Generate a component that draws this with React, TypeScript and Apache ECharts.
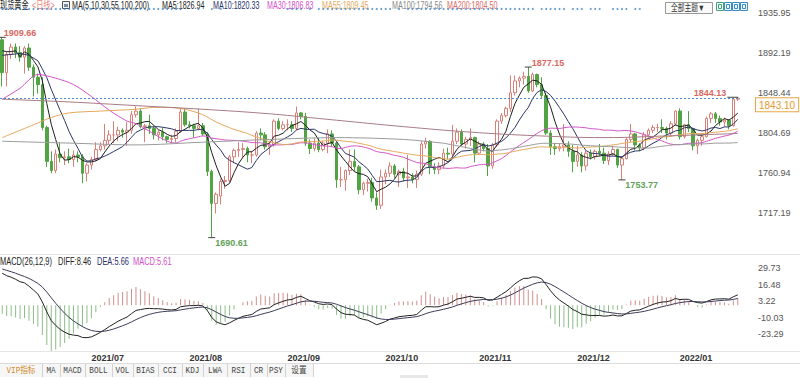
import React, { useEffect, useRef } from "react";
import * as echarts from "echarts";

// ---------- DATA ----------
const firstDay = "2021-06-03";
const lastDay = "2022-01-20";
function weekdays(from: string, to: string): string[] {
  const out: string[] = [];
  const d = new Date(from + "T00:00:00Z");
  const end = new Date(to + "T00:00:00Z");
  while (d <= end) {
    const wd = d.getUTCDay();
    if (wd !== 0 && wd !== 6) out.push(d.toISOString().slice(0, 10));
    d.setUTCDate(d.getUTCDate() + 1);
  }
  return out;
}
const dates = weekdays(firstDay, lastDay);

const opens = [
  1907, 1871, 1891, 1899, 1893, 1888, 1898, 1877, 1866, 1858,
  1811, 1774, 1764, 1782, 1778, 1779, 1776, 1781, 1779, 1761,
  1770, 1776, 1787, 1791, 1797, 1803, 1803, 1808, 1806, 1808,
  1825, 1829, 1812, 1813, 1810, 1803, 1806, 1801, 1798, 1799,
  1807, 1828, 1814, 1813, 1810, 1813, 1804, 1763, 1728, 1736,
  1752, 1753, 1779, 1786, 1787, 1788, 1781, 1781, 1805, 1803,
  1790, 1792, 1818, 1810, 1814, 1814, 1810, 1827, 1823, 1794,
  1788, 1794, 1787, 1794, 1804, 1794, 1754, 1754, 1764, 1774,
  1768, 1743, 1750, 1751, 1734, 1726, 1757, 1761, 1769, 1760,
  1763, 1756, 1757, 1754, 1760, 1793, 1796, 1768, 1765, 1769,
  1783, 1782, 1796, 1806, 1793, 1798, 1800, 1783, 1793, 1788,
  1769, 1792, 1818, 1824, 1832, 1849, 1862, 1865, 1867, 1851,
  1869, 1858, 1846, 1805, 1790, 1788, 1790, 1792, 1785, 1774,
  1781, 1769, 1783, 1779, 1785, 1783, 1775, 1782, 1787, 1770,
  1777, 1798, 1804, 1792, 1789, 1803, 1808, 1811, 1811, 1810,
  1805, 1815, 1829, 1801, 1814, 1810, 1791, 1797, 1801, 1821,
  1826, 1821, 1817, 1819, 1813, 1842,
];
const closes = [
  1871, 1891, 1899, 1893, 1888, 1898, 1877, 1866, 1858, 1811,
  1774, 1764, 1782, 1778, 1779, 1776, 1781, 1779, 1761, 1770,
  1776, 1787, 1791, 1797, 1803, 1803, 1808, 1806, 1808, 1825,
  1829, 1812, 1813, 1810, 1803, 1806, 1801, 1798, 1799, 1807,
  1828, 1814, 1813, 1810, 1813, 1804, 1763, 1728, 1738, 1752,
  1753, 1779, 1786, 1787, 1788, 1781, 1781, 1805, 1803, 1790,
  1792, 1818, 1810, 1814, 1814, 1810, 1827, 1823, 1794, 1788,
  1794, 1787, 1794, 1804, 1794, 1754, 1754, 1764, 1774, 1768,
  1743, 1750, 1751, 1734, 1726, 1757, 1761, 1769, 1760, 1763,
  1756, 1757, 1754, 1760, 1793, 1796, 1768, 1765, 1769, 1783,
  1782, 1796, 1806, 1793, 1798, 1800, 1783, 1793, 1788, 1769,
  1792, 1818, 1824, 1832, 1849, 1862, 1865, 1867, 1851, 1869,
  1858, 1846, 1805, 1790, 1788, 1790, 1792, 1785, 1774, 1781,
  1769, 1783, 1779, 1785, 1783, 1775, 1782, 1787, 1770, 1777,
  1798, 1804, 1792, 1789, 1803, 1808, 1811, 1811, 1810, 1805,
  1815, 1829, 1801, 1814, 1810, 1791, 1797, 1801, 1821, 1826,
  1821, 1817, 1819, 1813, 1842, 1843.1,
];
const lows = [
  1856, 1856, 1886, 1887, 1883, 1870, 1873, 1845, 1848, 1808,
  1768, 1761, 1761, 1773, 1770, 1772, 1768, 1773, 1750, 1752,
  1765, 1774, 1785, 1787, 1793, 1794, 1796, 1800, 1791, 1804,
  1822, 1810, 1795, 1804, 1798, 1797, 1797, 1794, 1794, 1795,
  1805, 1812, 1810, 1800, 1808, 1802, 1758, 1690.61, 1717, 1727,
  1744, 1751, 1772, 1779, 1778, 1773, 1772, 1779, 1797, 1787,
  1781, 1790, 1808, 1808, 1808, 1806, 1808, 1820, 1791, 1782,
  1785, 1784, 1785, 1783, 1790, 1745, 1746, 1742, 1759, 1763,
  1738, 1737, 1741, 1730, 1721, 1722, 1749, 1757, 1756, 1746,
  1752, 1745, 1750, 1745, 1758, 1788, 1760, 1760, 1760, 1766,
  1776, 1777, 1793, 1791, 1788, 1791, 1773, 1781, 1785, 1758,
  1766, 1790, 1815, 1822, 1828, 1846, 1855, 1858, 1849, 1850,
  1855, 1843, 1803, 1781, 1781, 1785, 1785, 1779, 1762, 1768,
  1762, 1764, 1776, 1776, 1780, 1771, 1770, 1780, 1767, 1753.77,
  1776, 1795, 1786, 1785, 1786, 1800, 1805, 1806, 1805, 1798,
  1801, 1813, 1798, 1799, 1806, 1786, 1782, 1791, 1800, 1816,
  1816, 1813, 1812, 1809, 1812, 1840,
];
const highs = [
  1909.66, 1894, 1903, 1903, 1900, 1900, 1903, 1880, 1870, 1866,
  1813, 1785, 1787, 1795, 1785, 1788, 1786, 1785, 1782, 1772,
  1779, 1795, 1795, 1815, 1808, 1818, 1812, 1810, 1817, 1829,
  1834, 1832, 1815, 1825, 1813, 1808, 1811, 1802, 1803, 1810,
  1832, 1832, 1818, 1815, 1832, 1816, 1806, 1765, 1740, 1755,
  1758, 1781, 1788, 1795, 1794, 1790, 1785, 1807, 1810, 1806,
  1796, 1820, 1821, 1818, 1820, 1818, 1834, 1828, 1827, 1798,
  1799, 1800, 1796, 1809, 1808, 1796, 1768, 1765, 1787, 1787,
  1770, 1752, 1755, 1756, 1740, 1765, 1765, 1773, 1771, 1765,
  1767, 1781, 1761, 1764, 1796, 1800, 1797, 1772, 1773, 1788,
  1789, 1814, 1810, 1809, 1801, 1810, 1801, 1796, 1795, 1793,
  1794, 1820, 1827, 1834, 1868, 1868, 1867, 1872, 1877.15, 1871,
  1870, 1866, 1849, 1808, 1794, 1794, 1815, 1796, 1792, 1791,
  1784, 1786, 1787, 1787, 1793, 1789, 1785, 1791, 1788, 1779,
  1800, 1815, 1805, 1794, 1806, 1810, 1814, 1815, 1820, 1812,
  1818, 1830, 1832, 1815, 1829, 1811, 1799, 1804, 1823, 1828,
  1828, 1824, 1822, 1820, 1843, 1844.13,
];

const ma5Early: [number, number][] = [[0, 1895], [1, 1894], [2, 1894], [3, 1895]];
const ma10Early: [number, number][] = [[0, 1890], [2, 1891], [4, 1892], [6, 1890], [8, 1884]];
const ma30Early: [number, number][] = [[0, 1842], [4, 1854], [8, 1869], [12, 1865], [16, 1858], [20, 1845], [24, 1830], [28, 1818]];
const ma55Early: [number, number][] = [[0, 1800], [7, 1814], [11, 1822], [15, 1827], [22, 1829], [30, 1831], [34, 1833], [37, 1833], [41, 1831], [45, 1825], [48, 1817], [52, 1809]];
const ma100Early: [number, number][] = [[0, 1796], [15, 1794], [30, 1792], [45, 1795], [60, 1798], [75, 1800], [90, 1798]];
const ma200Read: [number, number][] = [[0, 1842], [15, 1839], [30, 1835], [45, 1831], [60, 1826], [75, 1819], [90, 1812], [105, 1806], [120, 1802], [135, 1800], [150, 1802], [165, 1804.5]];

// MACD state before the first candle
const macdSeed = { ema12: 1896, ema26: 1866, dea: 30 };

const mainTicks = [1935.95, 1892.19, 1848.44, 1804.69, 1760.94, 1717.19];
const macdTicks = [29.73, 16.48, 3.22, -10.03, -23.29];

const highMarks = [0, 118, 165];
const lowMarks = [47, 139];

const flagIdx = [
  0, 1, 2, 3, 4, 5, 6, 7, 8, 9, 10, 11, 12, 13, 14, 15, 16, 17, 18, 19, 20,
  21, 22, 23, 24, 25, 26, 27, 28, 29, 30, 31, 32, 33, 34, 35, 36, 37, 38, 39, 40,
  44, 47, 49, 64, 65, 66, 67, 69,
  71, 72, 73, 74, 75, 76, 77, 78, 79, 80, 81, 82, 83, 84, 85, 86, 87, 89,
  91, 92, 93, 94, 95, 96, 97, 98, 99, 100, 101, 102, 103, 104, 105, 106, 107, 108, 109,
  110, 111, 112, 113, 114, 115, 116, 117, 118, 119,
  121, 122, 123, 124, 125, 126, 128, 129, 130, 132, 133, 134, 137, 138, 139, 140, 142, 143,
];

const headerItems = [
  { t: "现货黄金", x: 0, c: "#222" },
  { t: "<日线>", x: 32, c: "#e8837a" },
  { t: "MA(5,10,30,55,100,200)", x: 72, c: "#222" },
  { t: "MA5:1826.94", x: 162, c: "#222" },
  { t: "MA10:1820.33", x: 213, c: "#27306b" },
  { t: "MA30:1806.83", x: 267, c: "#d44fc9" },
  { t: "MA55:1809.45", x: 322, c: "#e3a95e" },
  { t: "MA100:1794.56", x: 392, c: "#8a8a8a" },
  { t: "MA200:1804.50", x: 447, c: "#e06a66" },
];
const macdHeader = [
  { t: "MACD(26,12,9)", x: 0, c: "#222" },
  { t: "DIFF:8.46", x: 58, c: "#222" },
  { t: "DEA:5.66", x: 97, c: "#27306b" },
  { t: "MACD:5.61", x: 133, c: "#d44fc9" },
];
const toolbarLabels = ["VIP指标", "MA", "MACD", "BOLL", "VOL", "BIAS", "CCI", "KDJ", "LWA", "RSI", "CR", "PSY", "设置"];
const toolbarEdges = [0, 42, 60, 85, 112, 133, 158, 182, 203, 227, 250, 267, 285, 313];

// ---------- HELPERS ----------
function movingAverage(n: number, early: [number, number][]) {
  const out: (number | null)[] = closes.map((_, i) => {
    if (i < n - 1) return null;
    let s = 0;
    for (let k = i - n + 1; k <= i; k++) s += closes[k];
    return +(s / n).toFixed(2);
  });
  early.forEach(([i, v]) => {
    out[i] = v;
  });
  return out;
}
function macd() {
  let e12 = macdSeed.ema12, e26 = macdSeed.ema26, dea = macdSeed.dea;
  const dif: number[] = [], de: number[] = [], hist: number[] = [];
  closes.forEach((c) => {
    e12 = e12 + ((c - e12) * 2) / 13;
    e26 = e26 + ((c - e26) * 2) / 27;
    const d = e12 - e26;
    dea = dea + ((d - dea) * 2) / 10;
    dif.push(+d.toFixed(3));
    de.push(+dea.toFixed(3));
    hist.push(+(2 * (d - dea)).toFixed(3));
  });
  return { dif, de, hist };
}

const FONT = '"Liberation Sans", Arial, "Noto Sans CJK SC", sans-serif';

export default function App() {
  const ref = useRef<HTMLDivElement>(null);
  useEffect(() => {
    if (!ref.current) return;
    const chart = echarts.init(ref.current, undefined, { renderer: "svg" });
    const m = macd();
    const lastIdx = closes.length - 1;
    const maLine = (name: string, data: (number | null)[], color: string, smooth: number | boolean) => ({
      name,
      type: "line",
      xAxisIndex: 0,
      yAxisIndex: 0,
      data,
      showSymbol: false,
      connectNulls: true,
      smooth,
      lineStyle: { width: 1, color },
      itemStyle: { color },
      silent: true,
      z: 3,
    });

    const markData: any[] = [];
    highMarks.forEach((i, k) => {
      const isLast = i === lastIdx;
      markData.push({
        coord: [i, highs[i]],
        symbol: "rect",
        symbolSize: isLast ? [11, 1] : [7, 1],
        symbolOffset: isLast ? [-5, 0] : [0, 0],
        itemStyle: { color: "#444" },
        label: {
          show: true,
          formatter: highs[i].toFixed(2),
          color: "#d9695f",
          fontSize: 9,
          fontWeight: "bold",
          fontFamily: FONT,
          align: isLast ? "right" : "left",
          verticalAlign: "middle",
          position: isLast ? [-1, -4] : k === 0 ? [5, -4] : [7, -4],
        },
      });
    });
    lowMarks.forEach((i) => {
      markData.push({
        coord: [i, lows[i]],
        symbol: "rect",
        symbolSize: [7, 1],
        itemStyle: { color: "#444" },
        label: {
          show: true,
          formatter: lows[i].toFixed(2),
          color: "#5fa35a",
          fontSize: 9,
          fontWeight: "bold",
          fontFamily: FONT,
          align: "left",
          verticalAlign: "middle",
          position: [7, 6],
        },
      });
    });

    const graphics: any[] = [];
    headerItems.forEach((h) => {
      graphics.push({
        type: "text",
        x: h.x,
        y: 5,
        scaleX: 0.65,
        silent: true,
        style: { text: h.t, fill: h.c, fontSize: 11, fontFamily: FONT, verticalAlign: "middle" },
      });
    });
    graphics.push({ type: "rect", shape: { x: 62.5, y: 1.5, width: 7, height: 7 }, style: { fill: "#eef2f6", stroke: "#555", lineWidth: 1 } });
    graphics.push({ type: "rect", shape: { x: 64, y: 4, width: 4, height: 3 }, style: { fill: "#7a8ea0" } });
    macdHeader.forEach((h) => {
      graphics.push({
        type: "text",
        x: h.x,
        y: 261,
        scaleX: 0.68,
        silent: true,
        style: { text: h.t, fill: h.c, fontSize: 11, fontFamily: FONT, verticalAlign: "middle" },
      });
    });
    // theme button & icons
    graphics.push({ type: "rect", shape: { x: 665.5, y: 2.5, width: 47, height: 11 }, style: { fill: "#fafafa", stroke: "#9a9a9a", lineWidth: 1 } });
    graphics.push({ type: "text", x: 671, y: 8, scaleX: 0.75, style: { text: "全部主题▼", fill: "#333", fontSize: 9, fontFamily: FONT, verticalAlign: "middle" } });
    [716, 724, 732, 740].forEach((x, k) => {
      graphics.push({ type: "rect", shape: { x: x + 0.5, y: 2.5, width: 7, height: 8 }, style: { fill: "#f2f8fb", stroke: k === 0 ? "#46a07a" : "#3a8cc4", lineWidth: 1 } });
      graphics.push({ type: "rect", shape: { x: x + 2.5, y: 4.5, width: 3, height: 4 }, style: { fill: "none", stroke: k === 0 ? "#46a07a" : "#3a8cc4", lineWidth: 1 } });
    });
    // panel separators
    graphics.push({ type: "line", shape: { x1: 0, y1: 254.5, x2: 800, y2: 254.5 }, style: { stroke: "#e6e6e6", lineWidth: 1 } });
    graphics.push({ type: "line", shape: { x1: 0, y1: 351.5, x2: 800, y2: 351.5 }, style: { stroke: "#e6e6e6", lineWidth: 1 } });
    graphics.push({ type: "line", shape: { x1: 0, y1: 363.5, x2: 800, y2: 363.5 }, style: { stroke: "#dcdcdc", lineWidth: 1 } });
    // toolbar
    graphics.push({ type: "rect", shape: { x: 0, y: 364, width: 313, height: 13 }, style: { fill: "#f6f6f6" } });
    toolbarLabels.forEach((t, k) => {
      const x0 = toolbarEdges[k], x1 = toolbarEdges[k + 1];
      graphics.push({ type: "line", shape: { x1: x1 + 0.5, y1: 364, x2: x1 + 0.5, y2: 377 }, style: { stroke: "#d2d2d2", lineWidth: 1 } });
      graphics.push({
        type: "text",
        x: (x0 + x1) / 2,
        y: 370.5,
        scaleX: 0.85,
        style: {
          text: t,
          fill: k === 0 ? "#d08a2c" : "#444",
          fontSize: 9,
          fontFamily: '"Liberation Mono", "Noto Sans CJK SC", monospace',
          align: "center",
          verticalAlign: "middle",
        },
      });
    });
    graphics.push({ type: "rect", shape: { x: 400, y: 375, width: 28, height: 3 }, style: { fill: "#e8e8e8" } });

    const option: any = {
      animation: false,
      backgroundColor: "#ffffff",
      textStyle: { fontFamily: FONT },
      grid: [
        { left: 0, top: 13.3, width: 740, height: 240.7 },
        { left: 0, top: 258, width: 740, height: 93 },
        { left: 0, top: 6, width: 740, height: 6 },
      ],
      xAxis: [
        { type: "category", gridIndex: 0, data: dates, axisLine: { show: false }, axisTick: { show: false }, axisLabel: { show: false }, splitLine: { show: false } },
        {
          type: "category",
          gridIndex: 1,
          data: dates,
          axisLine: { show: false },
          axisTick: { show: false },
          splitLine: { show: false },
          axisLabel: {
            interval: (index: number) => index > 0 && dates[index].slice(0, 7) !== dates[index - 1].slice(0, 7),
            formatter: (v: string) => v.slice(0, 7).replace("-", "/"),
            align: "left",
            fontSize: 9,
            fontWeight: "bold",
            color: "#333",
            margin: 2,
            fontFamily: FONT,
          },
        },
        { type: "category", gridIndex: 2, data: dates, show: false },
      ],
      yAxis: [
        {
          type: "value",
          gridIndex: 0,
          position: "right",
          min: 1672.7,
          max: 1935.95,
          axisLine: { show: false },
          axisTick: { show: false },
          splitLine: { show: false },
          axisLabel: { customValues: mainTicks, margin: 18, fontSize: 9, color: "#555", fontFamily: FONT, formatter: (v: number) => v.toFixed(2) },
        },
        {
          type: "value",
          gridIndex: 1,
          position: "right",
          min: -36.7,
          max: 38,
          axisLine: { show: false },
          axisTick: { show: false },
          splitLine: { show: false },
          axisLabel: { customValues: macdTicks, margin: 18, fontSize: 9, color: "#555", fontFamily: FONT, formatter: (v: number) => v.toFixed(2) },
        },
        { type: "value", gridIndex: 2, min: -1, max: 1, show: false },
      ],
      series: [
        {
          name: "K",
          type: "candlestick",
          xAxisIndex: 0,
          yAxisIndex: 0,
          data: dates.map((_, i) => [opens[i], closes[i], lows[i], highs[i]]),
          barWidth: 3,
          itemStyle: { color: "#ffffff", color0: "#52a344", borderColor: "#d9807a", borderColor0: "#52a344", borderWidth: 1 },
          z: 2,
          markPoint: { data: markData, silent: true, animation: false },
          markLine: {
            silent: true,
            symbol: ["none", "none"],
            animation: false,
            lineStyle: { color: "#4f8cc9", type: [2, 2], width: 1 },
            label: {
              show: true,
              position: "end",
              distance: 16,
              formatter: (p: any) => Number(p.value).toFixed(2),
              color: "#e39a3c",
              fontSize: 10,
              fontFamily: FONT,
              backgroundColor: "#fffdf7",
              borderColor: "#e8a848",
              borderWidth: 1,
              padding: [2, 3, 1, 3],
              verticalAlign: "top",
            },
            data: [{ yAxis: closes[lastIdx] }],
          },
        },
        maLine("MA5", movingAverage(5, ma5Early), "#1e1e1e", false),
        maLine("MA10", movingAverage(10, ma10Early), "#2c3566", false),
        maLine("MA30", movingAverage(30, ma30Early), "#d155c8", 0.3),
        maLine("MA55", movingAverage(55, ma55Early), "#e5a85c", 0.3),
        maLine("MA100", movingAverage(100, ma100Early), "#9a9a9a", 0.3),
        maLine("MA200", movingAverage(200, ma200Read), "#a77c86", 0.4),
        {
          name: "MACD",
          type: "bar",
          xAxisIndex: 1,
          yAxisIndex: 1,
          data: m.hist,
          barWidth: 1,
          silent: true,
          itemStyle: { color: (p: any) => (p.value >= 0 ? "#cf8f8c" : "#8dbd88") },
        },
        { name: "DIFF", type: "line", xAxisIndex: 1, yAxisIndex: 1, data: m.dif, showSymbol: false, lineStyle: { width: 1, color: "#222" }, silent: true },
        { name: "DEA", type: "line", xAxisIndex: 1, yAxisIndex: 1, data: m.de, showSymbol: false, lineStyle: { width: 1, color: "#3c3c5a" }, silent: true },
        {
          name: "flags",
          type: "scatter",
          xAxisIndex: 2,
          yAxisIndex: 2,
          data: flagIdx.map((i) => [i, 0]),
          symbol: "circle",
          symbolSize: 2,
          itemStyle: { color: "#3d82c4" },
          silent: true,
        },
      ],
      graphic: graphics,
    };
    chart.setOption(option);
    return () => chart.dispose();
  }, []);
  return <div ref={ref} style={{ position: "fixed", left: 0, top: 0, width: 800, height: 378, background: "#fff" }} />;
}
